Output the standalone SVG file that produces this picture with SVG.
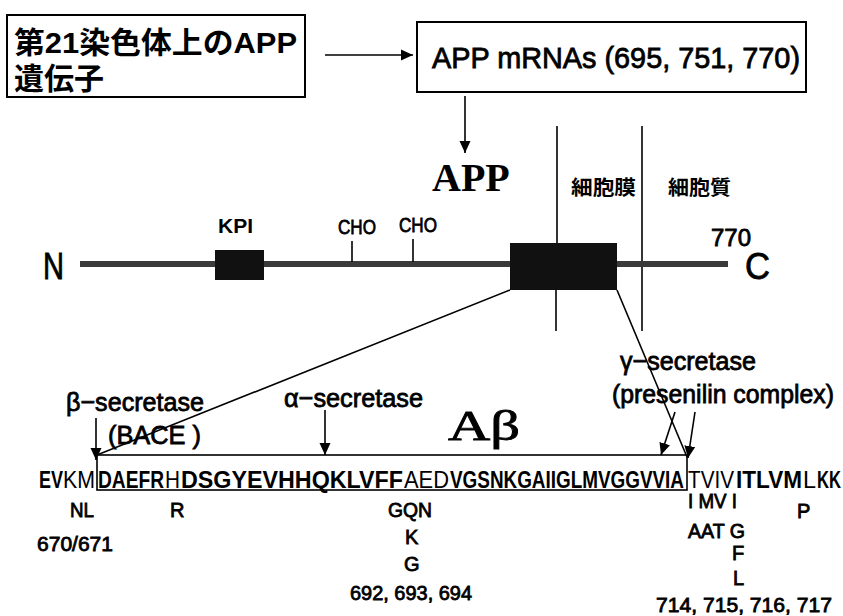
<svg xmlns="http://www.w3.org/2000/svg" width="843" height="616" viewBox="0 0 843 616">
<defs>
<marker id="ah" viewBox="0 0 12 12" refX="12" refY="6" markerWidth="12" markerHeight="12" orient="auto" markerUnits="userSpaceOnUse"><path d="M0,0.5 L12,6 L0,11.5 z" fill="#000"/></marker>
<style>
.box{fill:#fff;stroke:#000;stroke-width:2}
.ln{stroke:#000;stroke-width:1.6;fill:none}
.arr{stroke:#000;stroke-width:1.6;fill:none;marker-end:url(#ah)}
.jp{font-family:"Liberation Sans","Noto Sans CJK JP",sans-serif;font-weight:bold;fill:#000}
.sans{font-family:"Liberation Sans",Arial,sans-serif;fill:#000}
.b{font-weight:bold}
.med{stroke:#000;stroke-width:0.8}
.serif{font-family:"Liberation Serif","Times New Roman",serif;fill:#000}
.seq{font-family:"Liberation Sans",Arial,sans-serif;font-size:24px;fill:#000}
</style>
</defs>
<rect width="843" height="616" fill="#fff"/>

<g id="node-gene">
<rect class="box" x="7" y="15" width="298" height="82"/>
<text class="jp" x="14" y="53" font-size="30" textLength="283" lengthAdjust="spacingAndGlyphs">第21染色体上のAPP</text>
<text class="jp" x="14" y="89" font-size="30">遺伝子</text>
</g>

<g id="node-mrna">
<rect class="box" x="417" y="22" width="389" height="70"/>
<text class="sans med" x="432" y="68" font-size="30" textLength="368" lengthAdjust="spacingAndGlyphs">APP mRNAs (695, 751, 770)</text>
</g>

<g id="node-app-label">
<text class="serif b" x="432" y="191" font-size="40">APP</text>
</g>

<g id="node-membrane-labels">
<text class="jp" x="571" y="195" font-size="20" textLength="65" lengthAdjust="spacingAndGlyphs">細胞膜</text>
<text class="jp" x="668" y="195" font-size="20" textLength="63" lengthAdjust="spacingAndGlyphs">細胞質</text>
</g>

<g id="node-membrane-lines">
<line class="ln" x1="557" y1="126" x2="557" y2="243"/>
<line class="ln" x1="556" y1="290" x2="556" y2="331"/>
<line class="ln" x1="642" y1="126" x2="642" y2="331"/>
</g>

<g id="node-protein">
<text class="sans med" x="43" y="279" font-size="36" textLength="21" lengthAdjust="spacingAndGlyphs">N</text>
<rect x="80" y="261" width="648" height="6" fill="#3a3a3a"/>
<rect x="215" y="250" width="49" height="30" fill="#111"/>
<rect x="510" y="243" width="107" height="47" fill="#111"/>
<text class="sans med" x="745" y="279" font-size="36" textLength="25" lengthAdjust="spacingAndGlyphs">C</text>
<text class="sans med" x="711" y="246" font-size="24" textLength="40" lengthAdjust="spacingAndGlyphs">770</text>
<text class="sans b" x="218" y="233" font-size="21" textLength="35" lengthAdjust="spacingAndGlyphs">KPI</text>
<text class="sans med" x="338" y="234" font-size="21" textLength="38" lengthAdjust="spacingAndGlyphs">CHO</text>
<text class="sans med" x="399" y="232" font-size="21" textLength="38" lengthAdjust="spacingAndGlyphs">CHO</text>
<line class="ln" x1="352" y1="241" x2="352" y2="262"/>
<line class="ln" x1="413" y1="239" x2="413" y2="262"/>
</g>

<g id="node-abeta">
<rect x="97" y="455" width="590" height="35" fill="none" stroke="#000" stroke-width="1.6"/>
<text class="serif" x="448" y="440" font-size="42" textLength="72" lengthAdjust="spacingAndGlyphs" stroke="#000" stroke-width="0.8">Aβ</text>
</g>

<g id="node-secretase-labels">
<text class="sans med" x="66" y="411" font-size="26" textLength="138" lengthAdjust="spacingAndGlyphs">β−secretase</text>
<text class="sans med" x="108" y="444" font-size="26" textLength="93" lengthAdjust="spacingAndGlyphs">(BACE )</text>
<text class="sans med" x="284" y="407" font-size="26" textLength="139" lengthAdjust="spacingAndGlyphs">α−secretase</text>
<text class="sans med" x="620" y="370" font-size="26" textLength="136" lengthAdjust="spacingAndGlyphs">γ−secretase</text>
<text class="sans med" x="612" y="403" font-size="26" textLength="222" lengthAdjust="spacingAndGlyphs">(presenilin complex)</text>
</g>

<g id="node-sequence">
<text class="seq b" x="39" y="488" textLength="24" lengthAdjust="spacingAndGlyphs">EV</text>
<text class="seq" x="63" y="488" textLength="32" lengthAdjust="spacingAndGlyphs">KM</text>
<text class="seq b" x="98" y="488" textLength="66" lengthAdjust="spacingAndGlyphs">DAEFR</text>
<text class="seq" x="165" y="488" textLength="15" lengthAdjust="spacingAndGlyphs">H</text>
<text class="seq b" x="181" y="488" textLength="222" lengthAdjust="spacingAndGlyphs">DSGYEVHHQKLVFF</text>
<text class="seq" x="404" y="488" textLength="45" lengthAdjust="spacingAndGlyphs">AED</text>
<text class="seq b" x="450" y="488" textLength="234" lengthAdjust="spacingAndGlyphs">VGSNKGAIIGLMVGGVVIA</text>
<text class="seq" x="688" y="488" textLength="46" lengthAdjust="spacingAndGlyphs">TVIV</text>
<text class="seq b" x="736" y="488" textLength="66" lengthAdjust="spacingAndGlyphs">ITLVM</text>
<text class="seq" x="803" y="488" textLength="13" lengthAdjust="spacingAndGlyphs">L</text>
<text class="seq b" x="817" y="488" textLength="24" lengthAdjust="spacingAndGlyphs">KK</text>
</g>

<g id="node-mutations">
<text class="sans med" x="70" y="517" font-size="20" textLength="24" lengthAdjust="spacingAndGlyphs">NL</text>
<text class="sans med" x="170" y="517" font-size="20">R</text>
<text class="sans med" x="37" y="551" font-size="20" textLength="76" lengthAdjust="spacingAndGlyphs">670/671</text>
<text class="sans med" x="388" y="517" font-size="20" textLength="44" lengthAdjust="spacingAndGlyphs">GQN</text>
<text class="sans med" x="405" y="544" font-size="20">K</text>
<text class="sans med" x="404" y="571" font-size="20">G</text>
<text class="sans med" x="350" y="600" font-size="20" textLength="122" lengthAdjust="spacingAndGlyphs">692, 693, 694</text>
<text class="sans med" x="688" y="508" font-size="20" textLength="49" lengthAdjust="spacingAndGlyphs">I MV I</text>
<text class="sans med" x="797" y="518" font-size="20">P</text>
<text class="sans med" x="688" y="538" font-size="20" textLength="57" lengthAdjust="spacingAndGlyphs">AAT G</text>
<text class="sans med" x="732" y="560" font-size="20">F</text>
<text class="sans med" x="733" y="585" font-size="20">L</text>
<text class="sans med" x="656" y="612" font-size="20" textLength="176" lengthAdjust="spacingAndGlyphs">714, 715, 716, 717</text>
</g>

<g id="connectors">
<line class="arr" x1="325" y1="55" x2="413" y2="55"/>
<line class="arr" x1="465" y1="96" x2="465" y2="153"/>
<line class="ln" x1="510" y1="290" x2="97" y2="455" stroke-width="2"/>
<line class="ln" x1="617" y1="290" x2="687" y2="457" stroke-width="2"/>
<line class="arr" x1="96" y1="418" x2="96" y2="460"/>
<line class="arr" x1="325" y1="410" x2="325" y2="455"/>
<line class="arr" x1="675" y1="412" x2="661" y2="455"/>
<line class="arr" x1="695" y1="412" x2="688" y2="458"/>
</g>
</svg>
